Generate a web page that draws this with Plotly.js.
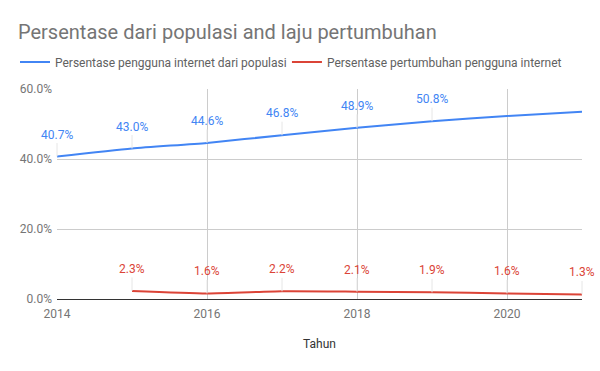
<!DOCTYPE html>
<html>
<head>
<meta charset="utf-8">
<script src="https://cdn.plot.ly/plotly-3.0.1.min.js"></script>
<style>html,body{margin:0;padding:0;background:#fff}#chart{width:600px;height:371px}</style>
</head>
<body>
<div id="chart"></div>
<script>
var yearsUsers = [2014, 2015, 2016, 2017, 2018, 2019, 2020, 2021];
var usersPct = [40.7, 43.0, 44.6, 46.8, 48.9, 50.8, 52.3, 53.5];
var usersLabelCount = 6; // labels shown in reference for first six points

var yearsGrowth = [2015, 2016, 2017, 2018, 2019, 2020, 2021];
var growthPct = [2.3, 1.6, 2.2, 2.1, 1.9, 1.6, 1.3];

var nameUsers = 'Persentase pengguna internet dari populasi';
var nameGrowth = 'Persentase pertumbuhan pengguna internet';
var blue = '#4285F4', red = '#DB4437';

var traces = [
  {x: yearsUsers, y: usersPct, name: nameUsers, type: 'scatter', mode: 'lines', legend: 'legend',
   line: {color: blue, width: 2, shape: 'spline', smoothing: 0.6}, hoverinfo: 'x+y'},
  {x: yearsGrowth, y: growthPct, name: nameGrowth, type: 'scatter', mode: 'lines', legend: 'legend2',
   line: {color: red, width: 2, shape: 'spline', smoothing: 0.6}, hoverinfo: 'x+y'}
];

var annotations = [];
function addLabels(xs, ys, n, color) {
  for (var i = 0; i < n; i++) {
    annotations.push({
      x: xs[i], y: ys[i], xref: 'x', yref: 'y',
      text: ys[i].toFixed(1) + '%',
      showarrow: true, arrowhead: 0, arrowwidth: 1, arrowcolor: '#e6e6e6',
      ax: 0, ay: -22, standoff: 0, startstandoff: 0,
      font: {family: 'Roboto, Arial, sans-serif', size: 12, color: color}
    });
  }
}
addLabels(yearsUsers, usersPct, usersLabelCount, blue);
addLabels(yearsGrowth, growthPct, growthPct.length, red);

var legendFont = {family: 'Roboto, Arial, sans-serif', size: 12, color: '#616161'};

var layout = {
  width: 600, height: 371,
  margin: {l: 57, r: 18, t: 89, b: 72},
  paper_bgcolor: '#fff', plot_bgcolor: '#fff',
  font: {family: 'Roboto, Arial, sans-serif', size: 12, color: '#757575'},
  title: {text: 'Persentase dari populasi and laju pertumbuhan', x: 0.03, xref: 'container', xanchor: 'left',
          y: 1, yref: 'container', yanchor: 'top', pad: {t: 25, l: 0},
          font: {family: 'Roboto, Arial, sans-serif', size: 20, color: '#757575'}},
  showlegend: true,
  legend: {orientation: 'h', x: -0.08, xanchor: 'left', y: 1.06, yanchor: 'bottom', yref: 'paper',
           font: legendFont, itemwidth: 30},
  legend2: {orientation: 'h', x: 0.438, xanchor: 'left', y: 1.06, yanchor: 'bottom', yref: 'paper',
           font: legendFont, itemwidth: 30},
  xaxis: {range: [2014, 2021], tickvals: [2014, 2016, 2018, 2020], ticktext: ['2014', '2016', '2018', '2020'],
          showgrid: true, gridcolor: '#cccccc', zeroline: false, showline: false, ticks: '',
          ticklabelstandoff: 6, tickfont: {size: 12, color: '#757575'},
          title: {text: 'Tahun', standoff: 19, font: {size: 12, color: '#333333'}}},
  yaxis: {range: [0, 60], tickvals: [0, 20, 40, 60], ticktext: ['0.0%', '20.0%', '40.0%', '60.0%'],
          showgrid: true, gridcolor: '#cccccc', zeroline: true, zerolinecolor: '#333333', zerolinewidth: 1,
          showline: false, ticks: '', ticklabelstandoff: 4, tickfont: {size: 12, color: '#757575'}},
  annotations: annotations
};

Plotly.newPlot('chart', traces, layout, {displayModeBar: false, staticPlot: true});
</script>
</body>
</html>
